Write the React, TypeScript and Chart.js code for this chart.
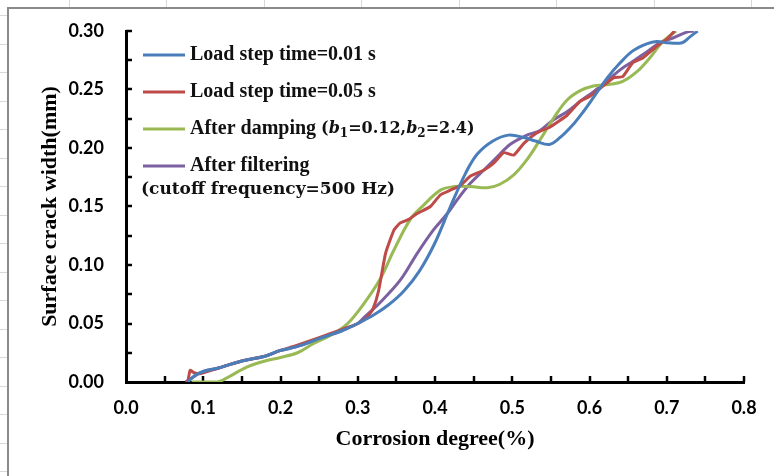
import React, { useEffect, useRef } from "react";
import { Chart, registerables } from "chart.js";

Chart.register(...registerables);

// ---- data ----
const blueX = [0.08, 0.09, 0.1, 0.12, 0.15, 0.18, 0.2, 0.22, 0.25, 0.28, 0.3, 0.32, 0.34, 0.36, 0.38, 0.4, 0.42, 0.44, 0.455, 0.475, 0.495, 0.515, 0.53, 0.548, 0.562, 0.58, 0.592, 0.605, 0.623, 0.64, 0.656, 0.674, 0.687, 0.7, 0.72, 0.73, 0.74];
const blueY = [0, 0.006, 0.009, 0.012, 0.018, 0.022, 0.027, 0.030, 0.037, 0.044, 0.050, 0.057, 0.066, 0.078, 0.095, 0.119, 0.15, 0.179, 0.195, 0.206, 0.211, 0.209, 0.206, 0.203, 0.209, 0.221, 0.231, 0.243, 0.26, 0.273, 0.283, 0.289, 0.291, 0.29, 0.29, 0.295, 0.3];

const redX = [0.08, 0.083, 0.088, 0.095, 0.101, 0.12, 0.15, 0.18, 0.2, 0.22, 0.25, 0.28, 0.3, 0.312, 0.32, 0.327, 0.336, 0.347, 0.355, 0.366, 0.377, 0.394, 0.407, 0.42, 0.433, 0.446, 0.463, 0.476, 0.489, 0.502, 0.515, 0.532, 0.549, 0.571, 0.588, 0.6, 0.614, 0.631, 0.643, 0.656, 0.669, 0.687, 0.7, 0.71];
const redY = [0, 0.01, 0.008, 0.007, 0.008, 0.012, 0.018, 0.022, 0.027, 0.031, 0.038, 0.045, 0.050, 0.055, 0.063, 0.078, 0.11, 0.13, 0.136, 0.139, 0.144, 0.15, 0.16, 0.164, 0.168, 0.176, 0.181, 0.187, 0.196, 0.194, 0.204, 0.213, 0.218, 0.228, 0.24, 0.244, 0.251, 0.26, 0.261, 0.273, 0.277, 0.287, 0.293, 0.3];

const greenX = [0.085, 0.1, 0.119, 0.14, 0.157, 0.18, 0.2, 0.222, 0.243, 0.265, 0.287, 0.308, 0.329, 0.347, 0.368, 0.385, 0.407, 0.424, 0.446, 0.468, 0.484, 0.502, 0.519, 0.536, 0.553, 0.571, 0.588, 0.605, 0.622, 0.643, 0.661, 0.678, 0.695, 0.712];
const greenY = [0, 0, 0, 0.007, 0.013, 0.018, 0.021, 0.025, 0.033, 0.04, 0.05, 0.067, 0.088, 0.113, 0.139, 0.151, 0.164, 0.167, 0.167, 0.166, 0.169, 0.177, 0.19, 0.207, 0.225, 0.241, 0.249, 0.253, 0.254, 0.257, 0.265, 0.277, 0.291, 0.3];

const purpleX = [0.077, 0.1, 0.12, 0.15, 0.18, 0.2, 0.22, 0.25, 0.28, 0.3, 0.308, 0.329, 0.355, 0.377, 0.398, 0.416, 0.429, 0.446, 0.463, 0.48, 0.497, 0.519, 0.536, 0.553, 0.571, 0.588, 0.605, 0.622, 0.64, 0.656, 0.674, 0.691, 0.708, 0.726, 0.735];
const purpleY = [0, 0.009, 0.012, 0.018, 0.022, 0.027, 0.03, 0.037, 0.044, 0.05, 0.055, 0.068, 0.087, 0.11, 0.13, 0.144, 0.156, 0.17, 0.181, 0.192, 0.203, 0.211, 0.215, 0.224, 0.231, 0.24, 0.248, 0.257, 0.267, 0.274, 0.282, 0.29, 0.294, 0.299, 0.3];

const seriesLabels = ["Load step time=0.01 s", "Load step time=0.05 s", "After damping (b\u2081=0.12,b\u2082=2.4)", "After filtering"];
const seriesColors = ["#4A7EBB", "#BE4B48", "#98B954", "#7D60A0"];
const legendNote = "(cutoff frequency=500 Hz)";

const xMin = 0, xMax = 0.8, xStep = 0.1, xMinorStep = 0.05;
const yMin = 0, yMax = 0.3, yStep = 0.05, yMinorStep = 0.025;
const xTitle = "Corrosion degree(%)";
const yTitle = "Surface crack width(mm)";

const toPoints = (xs: number[], ys: number[]) => xs.map((x, i) => ({ x, y: ys[i] }));

const MAIN_FONT = 'bold 20px "Liberation Serif"';
const MATH_FONT = 'bold 16px "DejaVu Serif"';
const MATH_IT = 'italic bold 16px "DejaVu Serif"';
const SUB_FONT = 'bold 12px "DejaVu Serif"';

type Run = { t: string; f: string; dy?: number };
const richLabel = (i: number): Run[] => {
  if (i === 2) {
    return [
      { t: "After damping ", f: MAIN_FONT },
      { t: "(", f: MATH_FONT },
      { t: "b", f: MATH_IT },
      { t: "1", f: SUB_FONT, dy: 5 },
      { t: "=0.12,", f: MATH_FONT },
      { t: "b", f: MATH_IT },
      { t: "2", f: SUB_FONT, dy: 5 },
      { t: "=2.4)", f: MATH_FONT },
    ];
  }
  return [{ t: seriesLabels[i], f: MAIN_FONT }];
};

const framePlugin = {
  id: "frame",
  beforeDraw(chart: any) {
    const { ctx, width, height } = chart;
    ctx.save();
    ctx.fillStyle = "#ffffff";
    ctx.fillRect(0, 0, width, height);
    ctx.strokeStyle = "#d9d9d9";
    ctx.lineWidth = 1;
    for (let x = 68.5; x < width; x += 97.5) {
      ctx.beginPath();
      ctx.moveTo(Math.round(x) + 0.5, 0);
      ctx.lineTo(Math.round(x) + 0.5, 7);
      ctx.stroke();
    }
    for (let y = 15; y < height; y += 28.5) {
      ctx.beginPath();
      ctx.moveTo(0, Math.round(y) + 0.5);
      ctx.lineTo(7, Math.round(y) + 0.5);
      ctx.stroke();
    }
    ctx.strokeStyle = "#8a8a8a";
    ctx.lineWidth = 2;
    ctx.beginPath();
    ctx.moveTo(width, 8);
    ctx.lineTo(8, 8);
    ctx.lineTo(8, height);
    ctx.stroke();
    ctx.restore();
  },
};

const innerTicksPlugin = {
  id: "innerTicks",
  beforeDatasetsDraw(chart: any) {
    const { ctx, chartArea } = chart;
    const xs = chart.scales.x;
    const ys = chart.scales.y;
    ctx.save();
    ctx.strokeStyle = "#000";
    ctx.lineWidth = 2.5;
    const len = 6;
    for (let k = 1; yMin + k * yMinorStep <= yMax + 1e-9; k++) {
      const py = Math.round(ys.getPixelForValue(yMin + k * yMinorStep));
      ctx.beginPath();
      ctx.moveTo(chartArea.left, py);
      ctx.lineTo(chartArea.left + len, py);
      ctx.stroke();
    }
    for (let k = 1; xMin + k * xMinorStep <= xMax + 1e-9; k++) {
      const px = Math.round(xs.getPixelForValue(xMin + k * xMinorStep));
      ctx.beginPath();
      ctx.moveTo(px, chartArea.bottom);
      ctx.lineTo(px, chartArea.bottom - len);
      ctx.stroke();
    }
    ctx.restore();
  },
};

const legendPlugin = {
  id: "customLegend",
  afterDraw(chart: any) {
    const { ctx, chartArea } = chart;
    const x0 = chartArea.left + 17;
    const x1 = x0 + 42;
    const tx = x1 + 5;
    ctx.save();
    ctx.textBaseline = "middle";
    ctx.textAlign = "left";
    ctx.fillStyle = "#111";
    chart.data.datasets.forEach((ds: any, i: number) => {
      const y = chartArea.top + 24 + i * 37;
      ctx.strokeStyle = ds.borderColor;
      ctx.lineWidth = 3;
      ctx.beginPath();
      ctx.moveTo(x0, y);
      ctx.lineTo(x1, y);
      ctx.stroke();
      let cx = tx;
      for (const r of richLabel(i)) {
        ctx.font = r.f;
        ctx.fillText(r.t, cx, y + (r.dy || 0));
        cx += ctx.measureText(r.t).width;
      }
    });
    ctx.font = 'bold 17px "DejaVu Serif"';
    ctx.fillText(legendNote, x0 - 2, chartArea.top + 24 + 3 * 37 + 24);
    ctx.restore();
  },
};

export default function App() {
  const ref = useRef<HTMLCanvasElement | null>(null);

  useEffect(() => {
    if (!ref.current) return;
    const tickFont = { family: "Lato", size: 18, weight: "bold" as const };
    const titleFont = { family: "Liberation Serif", size: 22, weight: "bold" as const, lineHeight: 1.2 };
    const sets = [
      toPoints(blueX, blueY),
      toPoints(redX, redY),
      toPoints(greenX, greenY),
      toPoints(purpleX, purpleY),
    ];
    const chart = new Chart(ref.current, {
      type: "line",
      data: {
        datasets: sets.map((d, i) => ({
          label: seriesLabels[i],
          data: d,
          borderColor: seriesColors[i],
          backgroundColor: seriesColors[i],
          borderWidth: 3,
          pointRadius: 0,
          tension: i === 1 ? 0.15 : 0.35,
          fill: false,
        })),
      },
      options: {
        responsive: false,
        animation: false,
        layout: { padding: { top: 31, right: 30, bottom: 0, left: 0 } },
        plugins: { legend: { display: false }, tooltip: { enabled: false } },
        scales: {
          x: {
            type: "linear",
            min: xMin,
            max: xMax,
            ticks: {
              stepSize: xStep,
              callback: (v: any) => Number(v).toFixed(1),
              padding: 15,
              font: tickFont,
              color: "#000",
              maxRotation: 0,
            },
            grid: { display: false, drawTicks: false },
            border: { display: true, color: "#000", width: 3 },
            title: { display: true, text: xTitle, font: titleFont, color: "#000", padding: { top: 0, bottom: 23 } },
            afterFit: (s: any) => {
              s.height = 94;
              s.paddingLeft = 0;
              s.paddingRight = 0;
            },
          },
          y: {
            type: "linear",
            min: yMin,
            max: yMax,
            ticks: {
              stepSize: yStep,
              callback: (v: any) => Number(v).toFixed(2),
              padding: 22,
              font: tickFont,
              color: "#000",
            },
            grid: { display: false, drawTicks: false },
            border: { display: true, color: "#000", width: 3 },
            title: { display: true, text: yTitle, font: titleFont, color: "#000", padding: { top: 37, bottom: 0 } },
            afterFit: (s: any) => {
              s.width = 126;
              s.paddingTop = 0;
              s.paddingBottom = 0;
            },
          },
        },
      },
      plugins: [framePlugin, innerTicksPlugin, legendPlugin],
    } as any);
    return () => chart.destroy();
  }, []);

  return (
    <div style={{ position: "fixed", left: 0, top: 0, width: 774, height: 476, background: "#fff" }}>
      <canvas ref={ref} width={774} height={476} style={{ display: "block", width: 774, height: 476 }} />
    </div>
  );
}
